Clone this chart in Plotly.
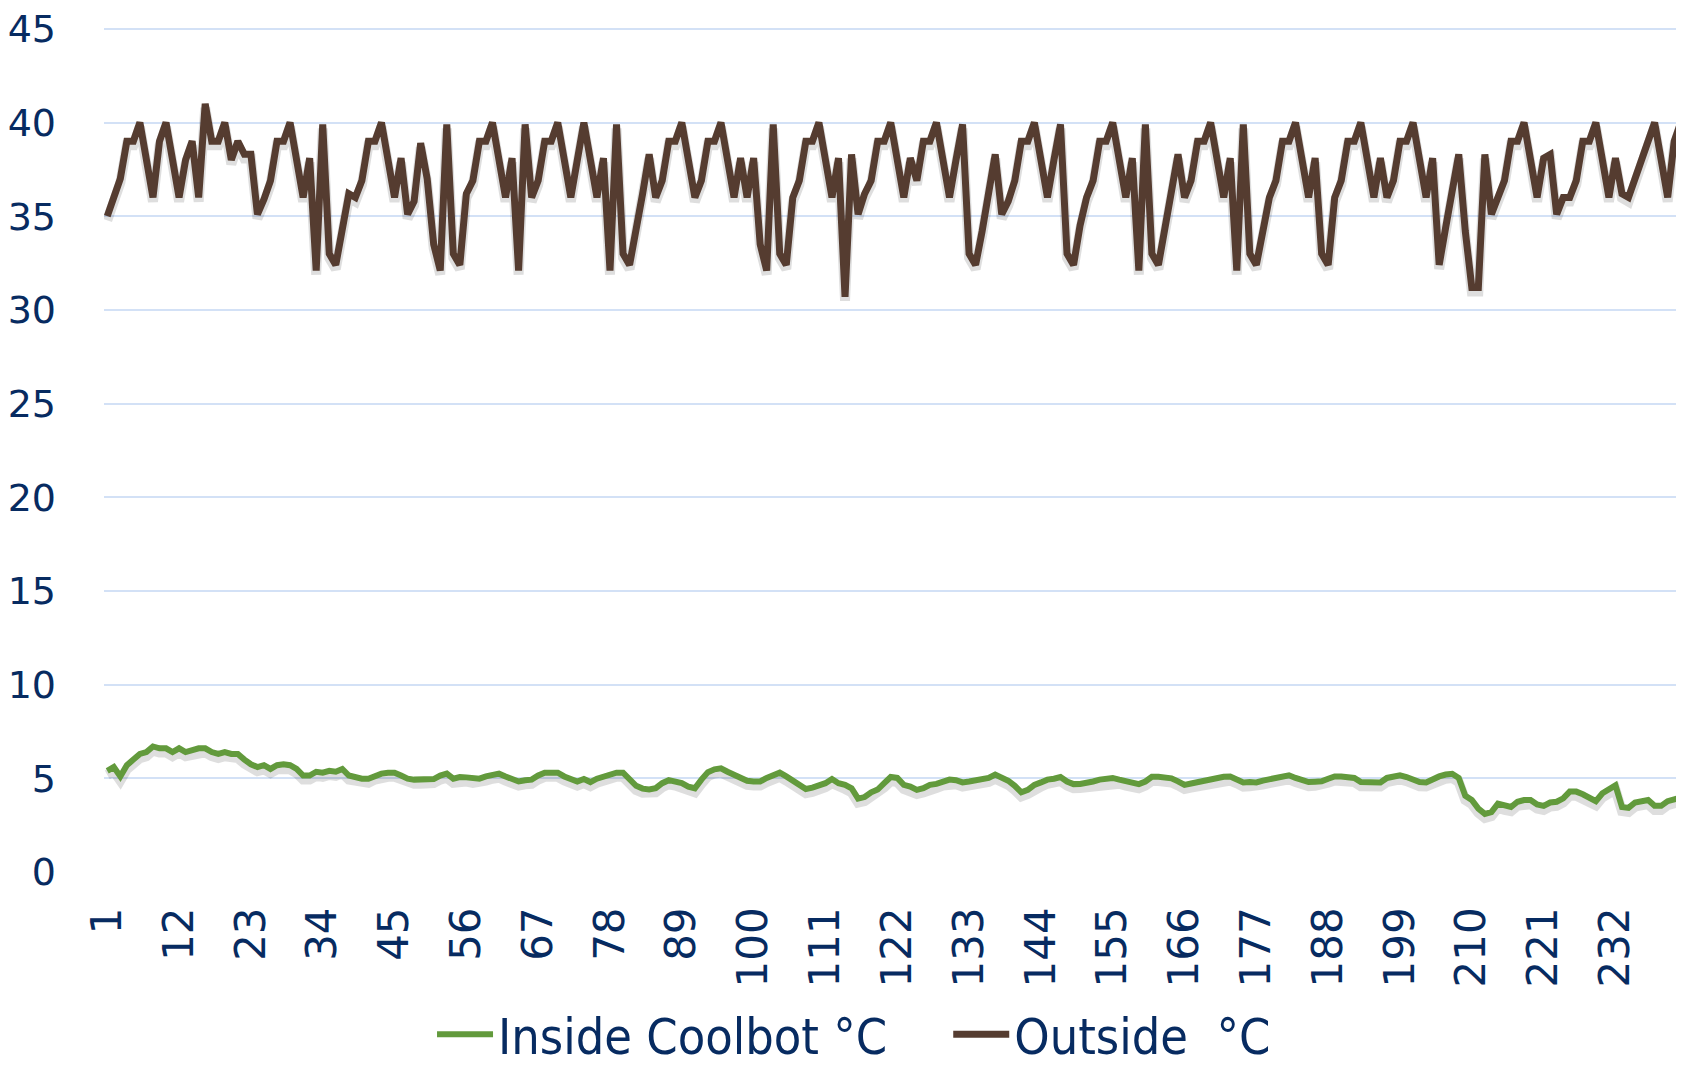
import plotly.graph_objects as go

# day index along the x axis
days = list(range(1, 243))

# temperatures
inside_c = [
    5.4, 5.6, 5.1, 5.7, 6.0, 6.3, 6.4, 6.7, 6.6, 6.6,
    6.4, 6.6, 6.4, 6.5, 6.6, 6.6, 6.4, 6.3, 6.4, 6.3,
    6.3, 6.0, 5.75, 5.6, 5.7, 5.5, 5.7, 5.75, 5.7, 5.5,
    5.15, 5.15, 5.35, 5.3, 5.4, 5.35, 5.5, 5.15, 5.05, 4.98,
    4.98, 5.15, 5.25, 5.3, 5.3, 5.15, 4.98, 4.93, 4.93, 4.93,
    4.96, 5.15, 5.25, 4.98, 5.07, 5.05, 4.98, 4.98, 5.1, 5.2,
    5.25, 5.1, 4.98, 4.83, 4.9, 4.93, 5.15, 5.3, 5.3, 5.3,
    5.1, 4.93, 4.83, 4.96, 4.8, 4.98, 5.1, 5.2, 5.3, 5.3,
    4.9, 4.6, 4.45, 4.4, 4.47, 4.74, 4.9, 4.83, 4.74, 4.56,
    4.47, 4.93, 5.33, 5.48, 5.53, 5.35, 5.17, 4.98, 4.87, 4.83,
    4.83, 5.02, 5.2, 5.3, 5.1, 4.87, 4.6, 4.43, 4.5, 4.6,
    4.74, 4.96, 4.74, 4.65, 4.47, 3.92, 4.0, 4.25, 4.4, 4.74,
    5.07, 5.02, 4.65, 4.56, 4.38, 4.47, 4.65, 4.7, 4.83, 4.93,
    4.9, 4.78, 4.83, 4.9, 4.93, 5.02, 5.2, 5.07, 4.87, 4.6,
    4.25, 4.38, 4.65, 4.78, 4.93, 4.98, 5.07, 4.83, 4.69, 4.7,
    4.74, 4.83, 4.93, 4.96, 5.02, 4.93, 4.83, 4.78, 4.69, 4.83,
    5.08, 5.08, 5.05, 5.0, 4.84, 4.65, 4.72, 4.8, 4.9, 4.96,
    5.05, 5.08, 5.1, 4.95, 4.78, 4.8, 4.78, 4.88, 4.96, 5.05,
    5.1, 5.16, 5.02, 4.9, 4.8, 4.82, 4.84, 4.98, 5.1, 5.1,
    5.1, 5.02, 4.8, 4.78, 4.78, 4.78, 5.02, 5.1, 5.16, 5.07,
    4.92, 4.8, 4.78, 4.96, 5.1, 5.2, 5.24, 5.02, 4.07, 3.84,
    3.38, 3.1, 3.2, 3.65, 3.53, 3.47, 3.75, 3.84, 3.84, 3.6,
    3.53, 3.71, 3.75, 3.93, 4.29, 4.29, 4.15, 3.96, 3.78, 4.2,
    4.38, 4.62, 3.47, 3.42, 3.71, 3.78, 3.84, 3.53, 3.53, 3.78,
    3.87, 3.98,
]

outside_c = [
    35, 36, 37, 39, 39, 40, 38, 36, 39, 40,
    38, 36, 38, 39, 36, 41, 39, 39, 40, 38,
    39, 38.3, 38.3, 35.1, 35.9, 36.9, 39, 39, 40, 38,
    36, 38.1, 32.1, 39.9, 33, 32.4, 34.2, 36.2, 36, 36.9,
    39, 39, 40, 38, 36, 38.1, 35.1, 35.8, 38.9, 37,
    33.5, 32.1, 39.9, 33, 32.4, 36.2, 36.9, 39, 39, 40,
    38, 36, 38.1, 32.1, 39.9, 36, 36.9, 39, 39, 40,
    38, 36, 38, 40, 38, 36, 38.1, 32.1, 39.9, 33,
    32.4, 34.2, 36.2, 38.3, 36, 36.9, 39, 39, 40, 38,
    36, 36.9, 39, 39, 40, 38, 36, 38.1, 36, 38.1,
    33.5, 32.1, 39.9, 33, 32.4, 36, 36.9, 39, 39, 40,
    38, 36, 38.1, 30.7, 38.3, 35.1, 36.2, 36.9, 39, 39,
    40, 38, 36, 38.1, 36.9, 39, 39, 40, 38, 36,
    38, 39.9, 33, 32.4, 34.2, 36.1, 38.3, 35.1, 35.8, 36.9,
    39, 39, 40, 38, 36, 38, 39.9, 33, 32.4, 34.5,
    36, 36.9, 39, 39, 40, 38, 36, 38.1, 32.1, 39.9,
    33, 32.4, 34.3, 36.2, 38.3, 36, 36.9, 39, 39, 40,
    38, 36, 38.1, 32.1, 39.9, 33, 32.4, 34.3, 36, 36.9,
    39, 39, 40, 38, 36, 38.1, 33, 32.4, 36, 36.9,
    39, 39, 40, 38, 36, 38.1, 36, 36.9, 39, 39,
    40, 38, 36, 38.1, 32.4, 34.4, 36.3, 38.3, 34.2, 31.2,
    31.2, 38.3, 35.1, 36, 36.9, 39, 39, 40, 38, 36,
    38.1, 38.3, 35.1, 36, 36, 36.9, 39, 39, 40, 38,
    36, 38.1, 36.2, 36, 37, 38, 39, 40, 38, 36,
    39, 40,
]

x_ticks = list(range(1, 243, 11))
y_ticks = list(range(0, 50, 5))

navy = "#072b61"
green = "#629a3c"
brown = "#553c30"
legend_font = dict(family="Liberation Sans Narrow, DejaVu Sans Condensed, sans-serif",
                   size=50, color=navy)

fig = go.Figure()

# soft drop shadow under each line (Excel style)
for vals in (inside_c, outside_c):
    fig.add_trace(go.Scatter(x=days, y=[v - 0.22 for v in vals], mode="lines",
                             line=dict(color="rgba(0,0,0,0.13)", width=10),
                             showlegend=False, hoverinfo="skip"))

fig.add_trace(go.Scatter(x=days, y=inside_c, mode="lines", name="Inside Coolbot °C",
                         line=dict(color=green, width=6), legend="legend"))
fig.add_trace(go.Scatter(x=days, y=outside_c, mode="lines", name="Outside \u00a0°C",
                         line=dict(color=brown, width=7), legend="legend2"))

# the page body adds an 8px margin, so the figure is 8px smaller each way
fig.update_layout(
    width=1676, height=1059,
    margin=dict(l=96, r=0, t=18, b=195),
    paper_bgcolor="white", plot_bgcolor="white",
    showlegend=True,
    legend=dict(orientation="h", xref="container", yref="container",
                x=0.253, xanchor="left", y=0.031, yanchor="middle",
                font=legend_font, itemwidth=56, bgcolor="rgba(0,0,0,0)"),
    legend2=dict(orientation="h", xref="container", yref="container",
                 x=0.561, xanchor="left", y=0.031, yanchor="middle",
                 font=legend_font, itemwidth=56, bgcolor="rgba(0,0,0,0)"),
)
fig.update_xaxes(range=[0.5, 242.5], tickvals=x_ticks, ticktext=[str(t) for t in x_ticks],
                 tickangle=-90, showgrid=False, zeroline=False, showline=False,
                 ticklabelstandoff=26, automargin=False, ticklabeloverflow="allow",
                 tickfont=dict(family="DejaVu Sans", size=42, color=navy))
# top a little past 45 so the 45 gridline is still drawn
fig.update_yaxes(range=[0, 45.15], tickvals=y_ticks, showgrid=True, gridcolor="#d3e1f6",
                 gridwidth=2, zeroline=False, showline=False, ticklabelstandoff=47,
                 automargin=False, ticklabeloverflow="allow",
                 tickfont=dict(family="DejaVu Sans", size=38, color=navy))

fig.write_html("out.html")
